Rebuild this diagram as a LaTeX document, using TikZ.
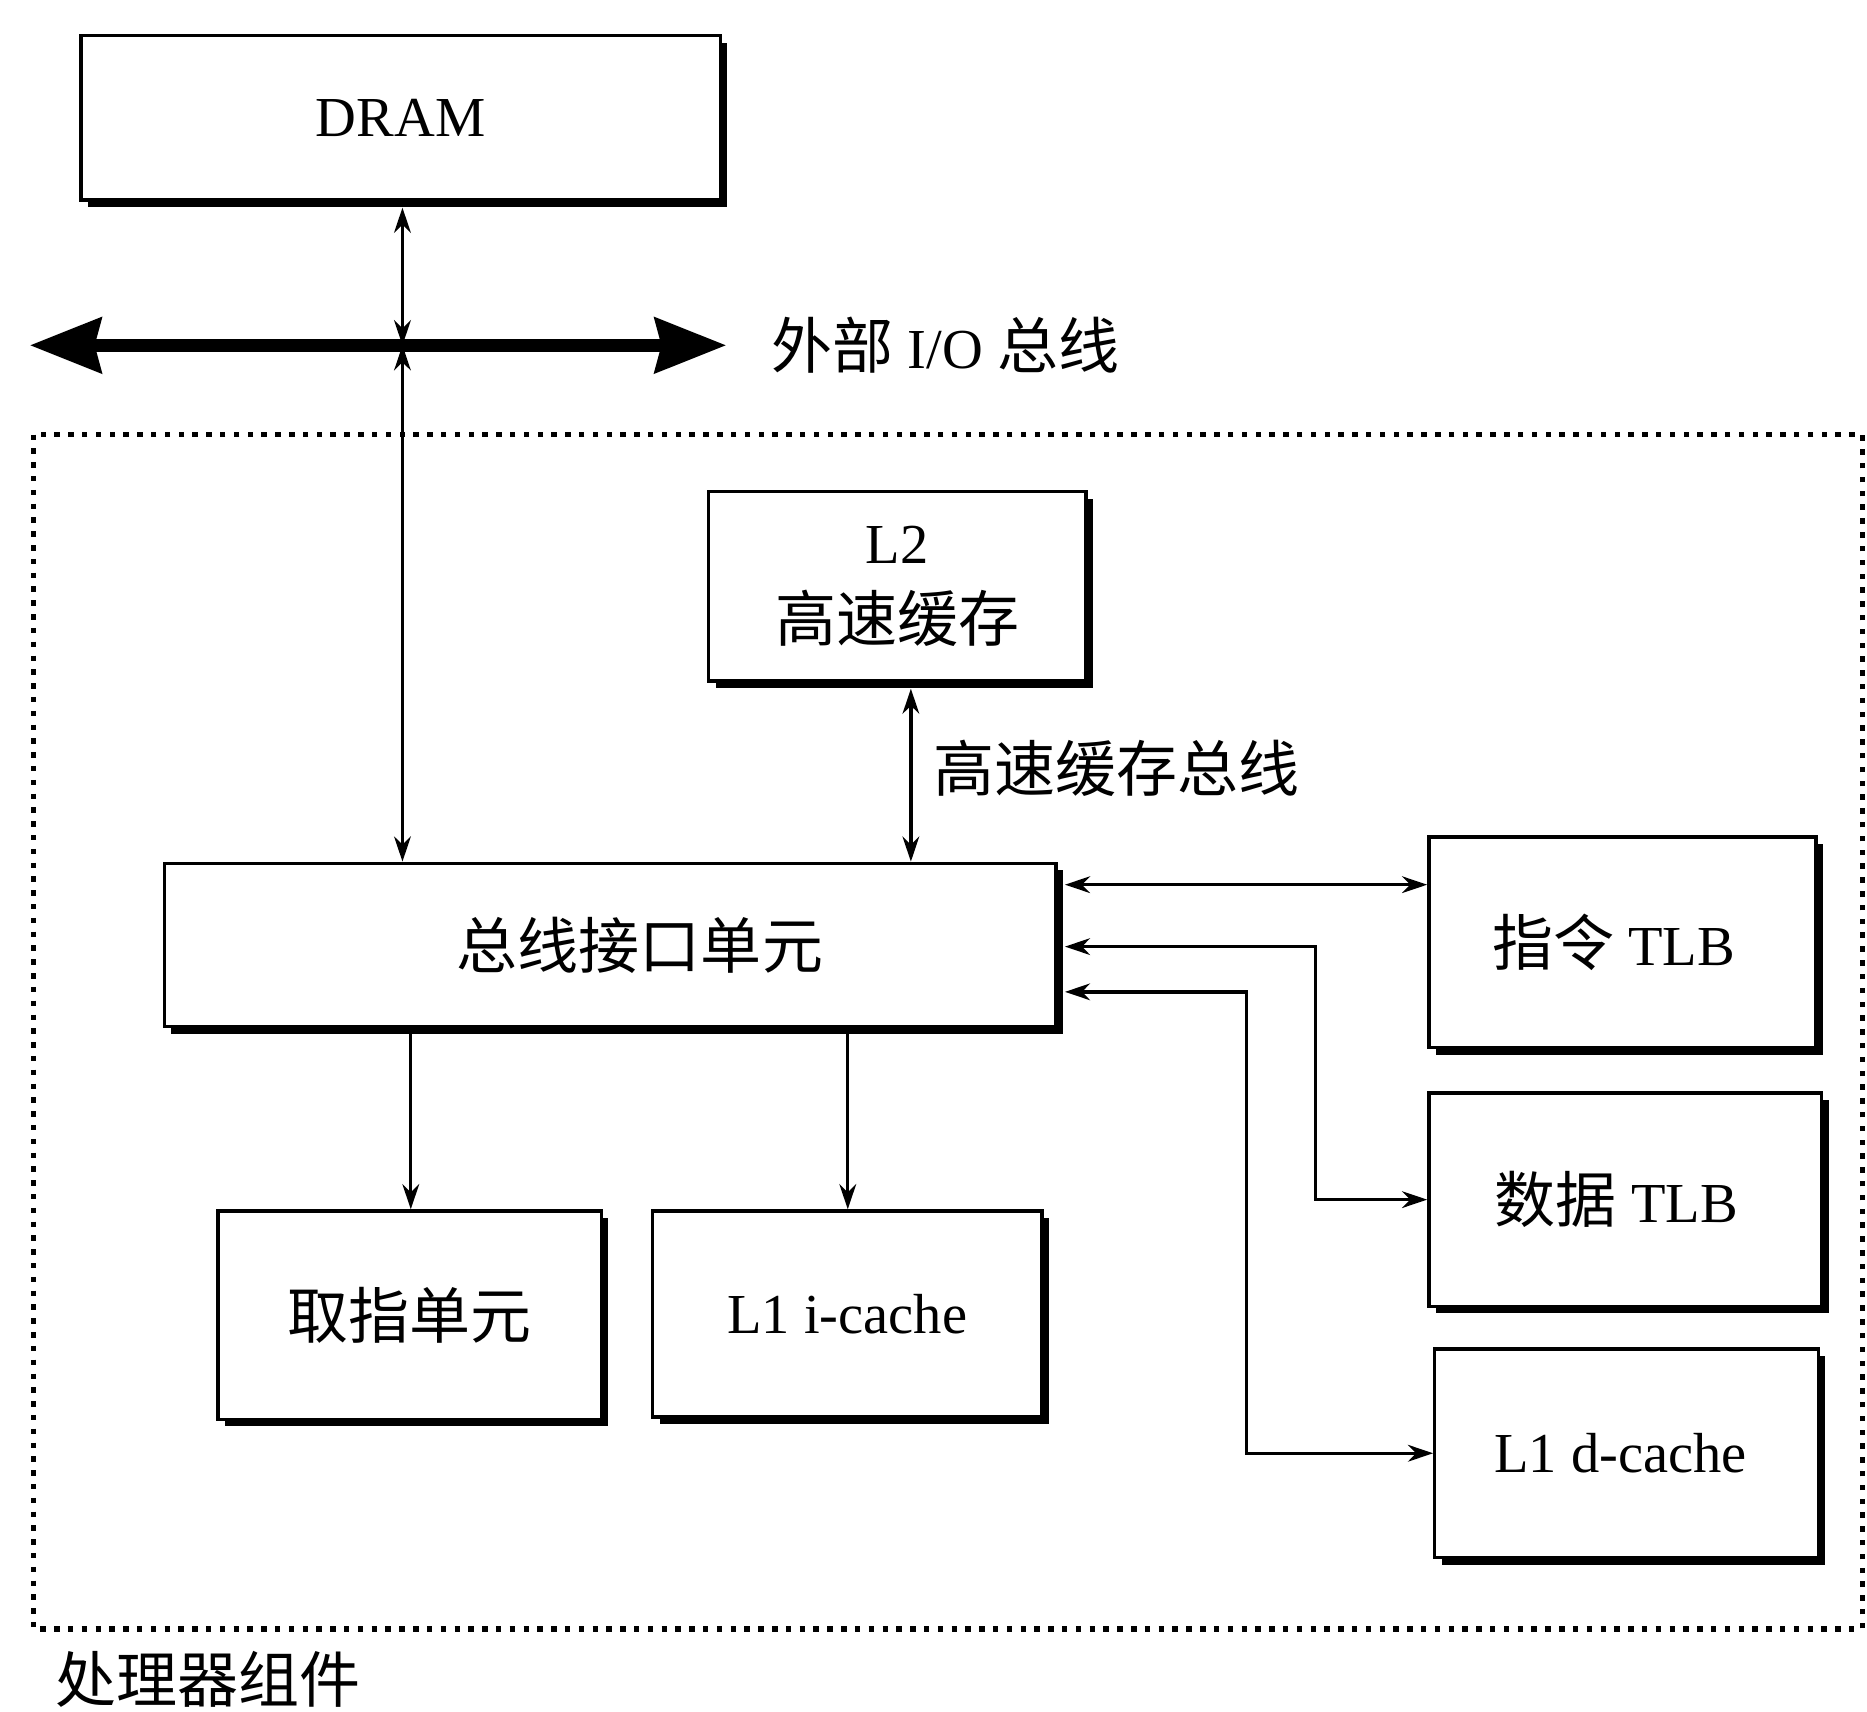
\documentclass[tikz,border=0pt]{standalone}
\usepackage{fontspec}
\setmainfont{Liberation Serif}
\newfontfamily\cjk[Scale=1.08]{Noto Sans CJK SC}
\usetikzlibrary{arrows.meta,shadows,fit,calc}
\begin{document}
\begin{tikzpicture}[x=0.02cm,y=-0.02cm,
  every node/.style={font=\fontsize{27pt}{37pt}\selectfont},
  box/.style={draw, line width=1.6pt, fill=white, inner sep=0pt,
    drop shadow={shadow xshift=3.4pt, shadow yshift=-3.4pt, fill=black, opacity=1}},
  txt/.style={align=center, font=\fontsize{27pt}{37pt}\selectfont},
  >={Stealth[length=12pt,width=8pt]},
  conn/.style={line width=1.6pt},
  busline/.style={line width=6pt, arrows={Stealth[length=34pt,width=26pt,inset=3pt]-Stealth[length=34pt,width=26pt,inset=3pt]}},
  frame/.style={line width=2.6pt, dash pattern=on 2.6pt off 4pt}
]
\useasboundingbox (0,0) rectangle (1568,1437);

% processor frame
\draw[frame] (28,365) rectangle (1564,1368);
\node[anchor=west] (proc) at (40,1410) {\cjk 处理器组件};

% boxes
\node[box, fit={(68,30) (605,168)}, label={[txt]center:DRAM}] (dram) {};
\node[box, fit={(595,413) (912,572)}, label={[txt]center:L2\\{\cjk 高速缓存}}] (l2) {};
\node[box, fit={(138,725) (887,862)}, label={[txt, xshift=0.5cm]center:{\cjk 总线接口单元}}] (biu) {};
\node[box, fit={(183,1017) (505,1192)}, label={[txt]center:{\cjk 取指单元}}] (fetch) {};
\node[box, fit={(548,1017) (875,1190)}, label={[txt]center:L1 i-cache}] (l1i) {};
\node[box, fit={(1200,703) (1525,880)}, label={[txt, xshift=-0.15cm]center:{\cjk 指令} TLB}] (itlb) {};
\node[box, fit={(1200,918) (1530,1097)}, label={[txt, xshift=-0.15cm]center:{\cjk 数据} TLB}] (dtlb) {};
\node[box, fit={(1205,1133) (1527,1308)}, label={[txt, xshift=-0.1cm]center:L1 d-cache}] (l1d) {};

% external bus
\coordinate (busL) at (25,290);
\coordinate (busR) at (610,290);
\coordinate (busX) at (338,290);
\draw[busline] (busL) -- (busR);
\node[anchor=west] (buslbl) at (642,290) {{\cjk 外部} I/O {\cjk 总线}};

% DRAM <-> bus <-> BIU
\draw[conn,<->] ($(dram.south -| busX)+(0,5)$) -- (busX);
\draw[conn,<->] (busX) -- (biu.north -| busX);

% L2 <-> BIU
\coordinate (xL2) at (765,650);
\draw[conn,<->] ($(l2.south -| xL2)+(0,5)$) -- (biu.north -| xL2);
\node[anchor=west] (cblbl) at (778,645) {\cjk 高速缓存总线};

% BIU -> fetch, L1 i-cache
\coordinate (xF) at (345,950);
\coordinate (xI) at (712,950);
\draw[conn,->] ($(biu.south -| xF)+(0,5)$) -- (fetch.north -| xF);
\draw[conn,->] ($(biu.south -| xI)+(0,5)$) -- (l1i.north -| xI);

% BIU <-> TLBs and L1 d-cache
\coordinate (yA) at (1000,743);
\coordinate (yB) at (1105,795);
\coordinate (yC) at (1047,833);
\draw[conn,<->] ($(biu.east |- yA)+(6,0)$) -- (itlb.west |- yA);
\draw[conn,<->] ($(biu.east |- yB)+(6,0)$) -| (yB |- dtlb.west) -- (dtlb.west);
\draw[conn,<->] ($(biu.east |- yC)+(6,0)$) -| (yC |- l1d.west) -- (l1d.west);
\end{tikzpicture}
\end{document}
